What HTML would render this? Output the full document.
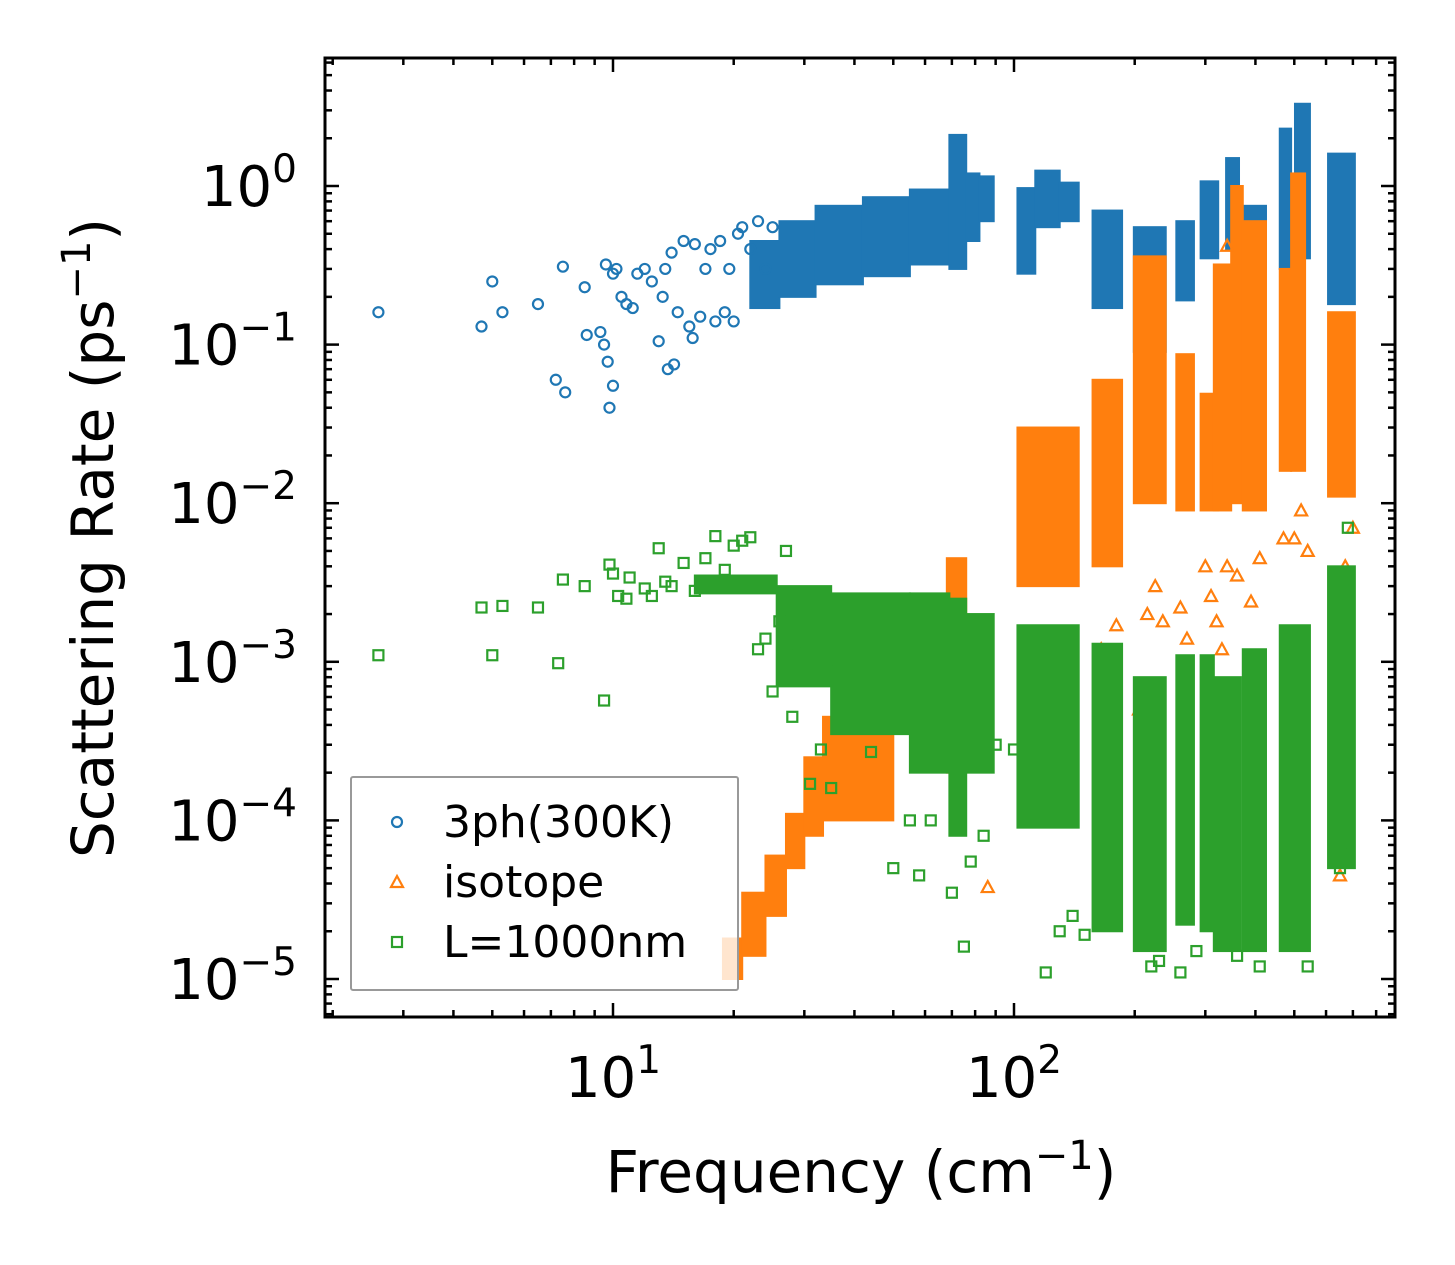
<!DOCTYPE html>
<html><head><meta charset="utf-8"><style>
html,body{margin:0;padding:0;background:#fff;}
svg{display:block;font-family:"DejaVu Sans","Liberation Sans",sans-serif;}
</style></head><body>
<svg id="chart" width="1455" height="1265" viewBox="0 0 1455 1265" xmlns="http://www.w3.org/2000/svg">
<rect width="1455" height="1265" fill="#fff"/>
<g id="marks"></g>
<g id="axes"></g>
<text transform="translate(113,538) rotate(-90)" text-anchor="middle" font-size="58">Scattering Rate (ps<tspan dy="-23" font-size="40">−1</tspan><tspan dy="23">)</tspan></text>
<text x="861" y="1192" text-anchor="middle" font-size="58">Frequency (cm<tspan dy="-23" font-size="40">−1</tspan><tspan dy="23">)</tspan></text>
<g>
<rect x="351" y="777" width="387" height="213" fill="#fff" fill-opacity="0.8" stroke="#999" stroke-width="2" rx="2"/>
<circle cx="397" cy="822" r="5" fill="none" stroke="#1f77b4" stroke-width="2.2"/>
<text x="443" y="837" font-size="44">3ph(300K)</text>
<polygon points="397,876 403,887 391,887" fill="none" stroke="#ff7f0e" stroke-width="2.2"/>
<text x="443" y="897" font-size="44">isotope</text>
<rect x="392" y="937" width="10" height="10" fill="none" stroke="#2ca02c" stroke-width="2.2"/>
<text x="443" y="957" font-size="44">L=1000nm</text>
</g>
</svg>
<script>
// ---- data (frequency cm^-1, rate ps^-1) ----
const xTickValues = [10, 100];
const xTickExps = ["1", "2"];
const yTickValues = [1, 0.1, 0.01, 0.001, 0.0001, 0.00001];
const yTickExps = ["0", "−1", "−2", "−3", "−4", "−5"];
// dense bands: [f0, f1, low, high]
const blueBands = [[22,26,0.17,0.45],[26,32,0.2,0.6],[32,42,0.24,0.75],[42,55,0.27,0.85],[55,69,0.32,0.95],[69,76,0.3,2.1],[76,82,0.45,1.2],[82,89,0.6,1.15],[102,113,0.28,0.97],[113,130,0.55,1.25],[130,145,0.6,1.05],[157,186,0.17,0.7],[199,239,0.09,0.55],[254,281,0.19,0.6],[292,323,0.35,1.07],[338,364,0.4,1.5],[368,425,0.3,0.75],[460,491,0.3,2.3],[502,547,0.35,3.3],[607,708,0.18,1.6]];
const orangeBands = [[18.8,21,1e-5,1.8e-5],[21,24,1.4e-5,3.5e-5],[24,27,2.5e-5,6e-5],[27,30,5e-5,1.1e-4],[30,33.4,8e-5,2.5e-4],[33.4,50,1e-4,4.5e-4],[68,76,2e-4,4.5e-3],[102,145,3e-3,3e-2],[157,186,4e-3,0.06],[199,239,0.01,0.36],[254,281,0.009,0.087],[292,323,0.009,0.049],[315,348,0.009,0.32],[348,372,0.01,1.0],[372,425,0.009,0.6],[460,491,0.016,0.3],[491,532,0.016,1.2],[607,708,0.011,0.16]];
const greenBands = [[16,25.6,2.7e-3,3.5e-3],[25.6,35,7e-4,3e-3],[35,55,3.5e-4,2.7e-3],[55,69,2e-4,2.7e-3],[69,76,8e-5,2.5e-3],[76,89,2e-4,2e-3],[102,145,9e-5,1.7e-3],[157,186,2e-5,1.3e-3],[199,239,1.5e-5,8e-4],[254,281,2.2e-5,1.1e-3],[292,315,2e-5,1.1e-3],[315,368,1.5e-5,8e-4],[372,425,1.5e-5,1.2e-3],[460,547,1.5e-5,1.7e-3],[607,708,5e-5,4e-3]];
// individual points
const blueFreq = [2.6,4.7,5.0,5.3,6.5,7.2,7.5,7.6,8.5,8.6,9.3,9.5,9.6,9.7,9.8,10,10,10.2,10.5,10.8,11.2,11.5,12,12.5,13,13.3,13.5,13.7,14,14.2,14.5,15,15.5,15.8,16,16.5,17,17.5,18,18.5,19,19.5,20,20.5,21,22,23,24,25];
const blueRate = [0.16,0.13,0.25,0.16,0.18,0.06,0.31,0.05,0.23,0.115,0.12,0.1,0.32,0.078,0.04,0.055,0.28,0.3,0.2,0.18,0.17,0.28,0.3,0.25,0.105,0.2,0.3,0.07,0.38,0.075,0.16,0.45,0.13,0.11,0.43,0.15,0.3,0.4,0.14,0.45,0.16,0.3,0.14,0.5,0.55,0.4,0.6,0.3,0.55];
const orangeFreq = [86,165,180,205,215,225,235,260,270,300,310,320,330,340,360,390,410,470,500,520,540,650,670,700,340];
const orangeRate = [3.8e-5,1.2e-3,1.7e-3,5e-4,2e-3,3e-3,1.8e-3,2.2e-3,1.4e-3,4e-3,2.6e-3,1.8e-3,1.2e-3,4e-3,3.5e-3,2.4e-3,4.5e-3,6e-3,6e-3,9e-3,5e-3,4.5e-5,4e-3,7e-3,0.42];
const greenFreq = [2.6,4.7,5.0,5.3,6.5,7.3,7.5,8.5,9.5,9.8,10,10.3,10.8,11,12,12.5,13,13.5,14,15,16,17,18,19,20,21,22,23,24,25,26,27,28,29,30,31,33,35,36,44,50,55,58,62,70,75,78,84,90,100,120,130,140,150,220,230,260,285,360,410,540,650,660,680];
const greenRate = [1.1e-3,2.2e-3,1.1e-3,2.25e-3,2.2e-3,9.8e-4,3.3e-3,3e-3,5.7e-4,4.1e-3,3.6e-3,2.6e-3,2.5e-3,3.4e-3,2.9e-3,2.6e-3,5.2e-3,3.2e-3,3e-3,4.2e-3,2.8e-3,4.5e-3,6.2e-3,3.8e-3,5.4e-3,5.8e-3,6.1e-3,1.2e-3,1.4e-3,6.5e-4,1.8e-3,5e-3,4.5e-4,1.1e-3,1.3e-3,1.7e-4,2.8e-4,1.6e-4,9e-4,2.7e-4,5e-5,1e-4,4.5e-5,1e-4,3.5e-5,1.6e-5,5.5e-5,8e-5,3e-4,2.8e-4,1.1e-5,2e-5,2.5e-5,1.9e-5,1.2e-5,1.3e-5,1.1e-5,1.5e-5,1.4e-5,1.2e-5,1.2e-5,5e-5,7e-5,7e-3];

// ---- axes geometry ----
const L=325,R=1395,T=58,B=1017;
function xs(f){return 613+401*(Math.log10(f)-1);}
function ys(v){return 186-158.6*Math.log10(v);}
const NS="http://www.w3.org/2000/svg";
function mk(tag,attrs,parent){const e=document.createElementNS(NS,tag);for(const k in attrs)e.setAttribute(k,attrs[k]);parent.appendChild(e);return e;}
const marks=document.getElementById('marks');
const axes=document.getElementById('axes');
mk('clipPath',{id:'clip'},marks);
mk('rect',{x:L,y:T,width:R-L,height:B-T},document.getElementById('clip'));
marks.setAttribute('clip-path','url(#clip)');

function drawBands(bands,color,name,pad){
  bands.forEach(b=>{
    const r=mk('rect',{x:xs(b[0])-pad,y:ys(b[3])-pad,width:xs(b[1])-xs(b[0])+2*pad,height:ys(b[2])-ys(b[3])+2*pad,fill:color},marks);
    
    
  });
}
function drawPts(fr,rt,color,shape,name){
  fr.forEach((f,i)=>{
    const x=xs(f),y=ys(rt[i]);let e;
    if(shape==='c') e=mk('circle',{cx:x,cy:y,r:5,fill:'none',stroke:color,'stroke-width':2.2},marks);
    else if(shape==='t') e=mk('polygon',{points:`${x},${y-6} ${x+6},${y+5} ${x-6},${y+5}`,fill:'none',stroke:color,'stroke-width':2.2},marks);
    else e=mk('rect',{x:x-5,y:y-5,width:10,height:10,fill:'none',stroke:color,'stroke-width':2.2},marks);
    
    
  });
}
drawBands(blueBands,'#1f77b4','band-3ph',1);
drawPts(blueFreq,blueRate,'#1f77b4','c','point-3ph');
drawBands(orangeBands,'#ff7f0e','band-isotope',1);
drawPts(orangeFreq,orangeRate,'#ff7f0e','t','point-isotope');
drawBands(greenBands,'#2ca02c','band-boundary',1);
drawPts(greenFreq,greenRate,'#2ca02c','s','point-boundary');

// frame
const fr=mk('rect',{x:L,y:T,width:R-L,height:B-T,fill:'none',stroke:'#000','stroke-width':3},axes);


for(let d=0;d<=2;d++){for(let m=1;m<=9;m++){const f=m*Math.pow(10,d);const x=xs(f);if(x<L||x>R)continue;const len=(m===1)?14:7;
  mk('line',{x1:x,x2:x,y1:B,y2:B-len,stroke:'#000','stroke-width':2.5},axes);
  mk('line',{x1:x,x2:x,y1:T,y2:T+len,stroke:'#000','stroke-width':2.5},axes);}}
for(let d=-6;d<=1;d++){for(let m=1;m<=9;m++){const v=m*Math.pow(10,d);const y=ys(v);if(y<T||y>B)continue;const len=(m===1)?14:7;
  mk('line',{x1:L,x2:L+len,y1:y,y2:y,stroke:'#000','stroke-width':2.5},axes);
  mk('line',{x1:R,x2:R-len,y1:y,y2:y,stroke:'#000','stroke-width':2.5},axes);}}
xTickValues.forEach((v,i)=>{
  const t=mk('text',{x:xs(v),y:1097,'text-anchor':'middle','font-size':56},axes);
  
  
  t.innerHTML='10<tspan dy="-24" font-size="39">'+xTickExps[i]+'</tspan>';
});
yTickValues.forEach((v,i)=>{
  const t=mk('text',{x:297,y:ys(v)+20,'text-anchor':'end','font-size':56},axes);
  
  
  t.innerHTML='10<tspan dy="-24" font-size="39">'+yTickExps[i]+'</tspan>';
});
</script>
</body></html>
